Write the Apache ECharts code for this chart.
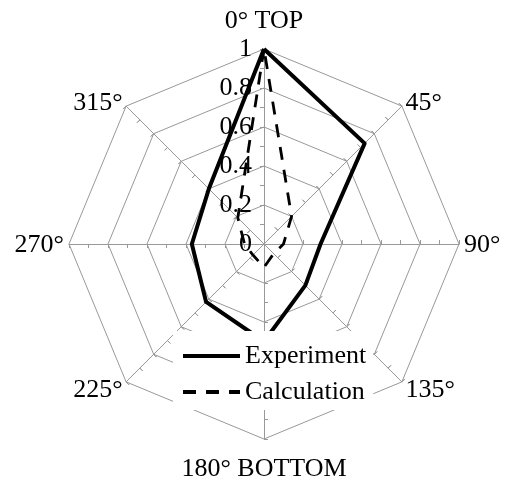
<!DOCTYPE html>
<html>
<head>
<meta charset="utf-8">
<script src="https://cdn.jsdelivr.net/npm/echarts@6/dist/echarts.min.js"></script>
<style>
  html, body { margin: 0; padding: 0; background: #fff; }
  #chart { width: 507px; height: 485px; }
</style>
</head>
<body>
<div id="chart"></div>
<script>
// directions, clockwise from the top
const angleNames = ["0° TOP", "45°", "90°", "135°", "180° BOTTOM", "225°", "270°", "315°"];
const experiment = [1.0, 0.73, 0.29, 0.30, 0.50, 0.42, 0.37, 0.40];
const calculation = [1.0, 0.20, 0.10, 0.07, 0.12, 0.08, 0.10, 0.19];
const radialTicks = [0, 0.2, 0.4, 0.6, 0.8, 1];

const FONT = "Liberation Serif";
const FS = 26;
const GRID = "#999";
const CENTER = [264, 244];
const RADIUS = 195;

// echarts lays radar indicators out counter-clockwise, so flip the order
const ccw = (arr) => [arr[0], ...arr.slice(1).reverse()];

const rMax = radialTicks[radialTicks.length - 1];
const indicators = ccw(angleNames).map((name) => ({ name, min: 0, max: rMax }));
const blankIndicators = indicators.map(() => ({ name: "", min: 0, max: rMax }));

function tickRadar(inside) {
  return {
    center: CENTER,
    radius: RADIUS,
    startAngle: 90,
    shape: "polygon",
    splitNumber: (radialTicks.length - 1) * 2,
    indicator: blankIndicators,
    axisName: { show: false },
    axisLine: { show: false },
    splitLine: { show: false },
    splitArea: { show: false },
    axisLabel: { show: false },
    axisTick: { show: true, inside: inside, length: 4, lineStyle: { color: GRID, width: 1 } },
  };
}

const nameText = { fontFamily: FONT, fontSize: FS, color: "#000" };

const chart = echarts.init(document.getElementById("chart"), null, { renderer: "canvas" });

const option = {
  animation: false,
  backgroundColor: "#fff",
  radar: [
    {
      center: CENTER,
      radius: RADIUS,
      startAngle: 90,
      shape: "polygon",
      splitNumber: radialTicks.length - 1,
      indicator: indicators,
      nameGap: 5,
      axisName: {
        ...nameText,
        formatter: (name) => {
          if (name.indexOf("TOP") >= 0) return "{top|" + name + "}";
          if (name.indexOf("BOTTOM") >= 0) return "{bot|" + name + "}";
          if (name === "135°" || name === "225°") return "{low|" + name + "}";
          return "{mid|" + name + "}";
        },
        rich: {
          top: { ...nameText, padding: [0, 0, 10, 0] },
          bot: { ...nameText, padding: [12, 0, 0, 0] },
          low: { ...nameText, padding: [10, 0, 0, 0] },
          mid: { ...nameText, padding: [2, 0, 0, 0] },
        },
      },
      axisLine: { lineStyle: { color: GRID, width: 1 } },
      splitLine: { lineStyle: { color: GRID, width: 1 } },
      splitArea: { show: false },
      axisTick: { show: false },
      axisLabel: { show: false },
    },
    tickRadar(false),
    tickRadar(true),
  ],
  // value labels along the 0° spoke
  grid: { left: CENTER[0] - 2, top: CENTER[1] - RADIUS, width: 4, height: RADIUS, show: false },
  xAxis: { type: "value", show: false },
  yAxis: {
    type: "value",
    min: radialTicks[0],
    max: rMax,
    interval: radialTicks[1] - radialTicks[0],
    axisLine: { show: false },
    axisTick: { show: false },
    splitLine: { show: false },
    axisLabel: { color: "#000", fontFamily: FONT, fontSize: FS, margin: 10 },
  },
  legend: {
    orient: "vertical",
    left: 173,
    top: 331,
    padding: [12, 7, 5, 10],
    itemGap: 10,
    itemWidth: 57,
    itemHeight: 4,
    backgroundColor: "#fff",
    textStyle: { color: "#000", fontFamily: FONT, fontSize: FS },
    data: [
      { name: "Experiment", icon: "rect" },
      { name: "Calculation", icon: "path://M0,0h13v4h-13zM23,0h13v4h-13zM46,0h11v4h-11z" },
    ],
  },
  series: [
    {
      type: "radar",
      radarIndex: 0,
      symbol: "none",
      silent: true,
      z: 3,
      data: [
        {
          name: "Experiment",
          value: ccw(experiment),
          itemStyle: { color: "#000" },
          lineStyle: { color: "#000", width: 4, type: "solid" },
        },
        {
          name: "Calculation",
          value: ccw(calculation),
          itemStyle: { color: "#000" },
          lineStyle: { color: "#000", width: 2.8, type: [13, 10] },
        },
      ],
    },
  ],
};

chart.setOption(option);

window.addEventListener("resize", () => {
  chart.resize();
});
</script>
</body>
</html>
